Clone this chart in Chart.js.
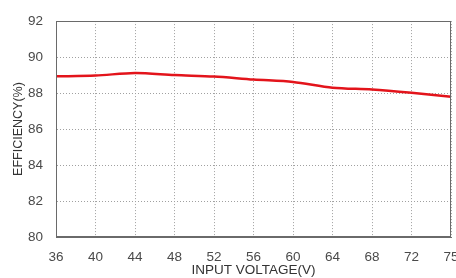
<!DOCTYPE html>
<html>
<head>
<meta charset="utf-8">
<script src="https://cdn.jsdelivr.net/npm/chart.js@4"></script>
<style>
html,body{margin:0;padding:0;background:#fff;}
#wrap{width:456px;height:278px;position:relative;}
</style>
</head>
<body>
<div id="wrap"><canvas id="c" width="456" height="278"></canvas></div>
<script>
const voltages = ["36","40","44","48","52","56","60","64","68","72","75"];
const efficiency = [88.93, 88.97, 89.12, 89.0, 88.92, 88.75, 88.62, 88.3, 88.2, 88.02, 87.8];
const yTicks = [80, 82, 84, 86, 88, 90, 92];

const fam = "Arial, 'Liberation Sans', sans-serif";
const font = {family: fam, size: 13.5};
new Chart(document.getElementById('c'), {
  type: 'line',
  data: {
    labels: voltages,
    datasets: [{
      data: efficiency,
      borderColor: '#e3141b',
      borderWidth: 2.5,
      pointRadius: 0,
      tension: 0.3,
      fill: false
    }]
  },
  options: {
    responsive: false,
    animation: false,
    devicePixelRatio: 1,
    layout: {padding: {top: 17, right: 5, left: 0, bottom: 0}},
    plugins: {legend: {display: false}, tooltip: {enabled: false}},
    scales: {
      x: {
        type: 'category',
        offset: false,
        grid: {color: '#a0a0a0', lineWidth: 1, drawTicks: false},
        border: {display: true, color: '#6a6a6a', width: 1, dash: [1, 2]},
        ticks: {color: '#4a4a4a', font: font, padding: 12, maxRotation: 0, autoSkip: false},
        title: {display: true, text: 'INPUT VOLTAGE(V)', color: '#333', font: {family: fam, size: 13.5}, padding: {top: 0, bottom: 0}},
        afterFit: s => { s.height = 41; s.paddingRight = 0; s.paddingLeft = 0; }
      },
      y: {
        min: 80, max: 92,
        afterBuildTicks: s => { s.ticks = yTicks.map(v => ({value: v})); },
        grid: {color: '#a0a0a0', lineWidth: 1, drawTicks: false},
        border: {display: true, color: '#6a6a6a', width: 1, dash: [1, 2]},
        ticks: {color: '#4a4a4a', font: font, padding: 13},
        title: {display: true, text: 'EFFICIENCY(%)', color: '#333', font: {family: fam, size: 12.5}, padding: {top: 11, bottom: 0}},
        afterFit: s => { s.width = 56; }
      }
    }
  },
  plugins: [{
    id: 'frame',
    afterDatasetsDraw(chart) {
      const a = chart.chartArea, ctx = chart.ctx;
      ctx.save();
      ctx.strokeStyle = '#6a6a6a';
      ctx.lineWidth = 1;
      ctx.strokeRect(Math.round(a.left) + 0.5, Math.round(a.top) + 0.5, Math.round(a.right - a.left) - 1, Math.round(a.bottom - a.top) - 1);
      ctx.restore();
    }
  }]
});
</script>
</body>
</html>
